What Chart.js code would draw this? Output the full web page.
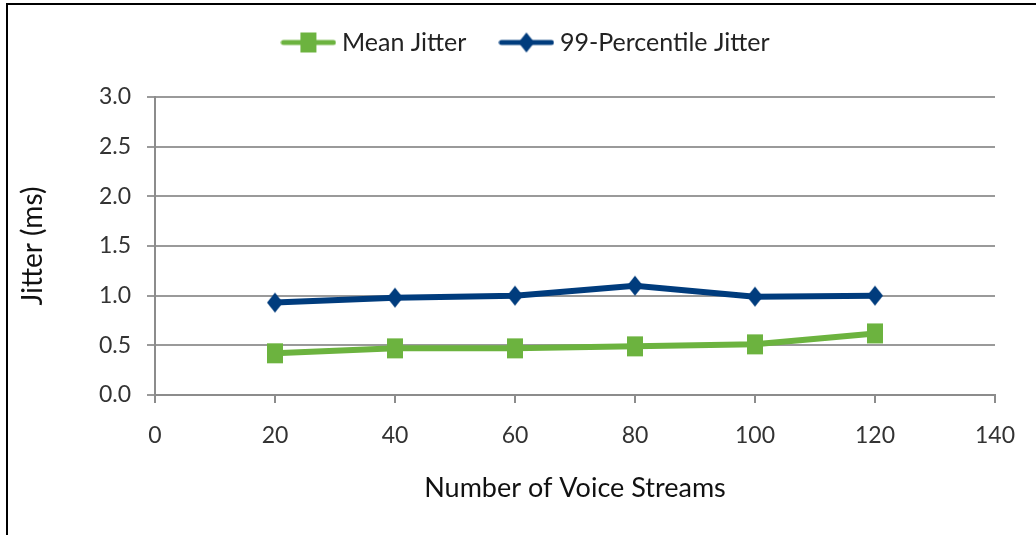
<!DOCTYPE html>
<html>
<head>
<meta charset="utf-8">
<script src="https://cdn.jsdelivr.net/npm/chart.js@4"></script>
<style>
    html, body { margin: 0; padding: 0; background: #fff; overflow: hidden; }
    #wrap {
        position: absolute; left: 6px; top: 3px;
        width: 1028px; height: 530px;
        border-left: 2px solid #000; border-top: 2px solid #000;
    }
</style>
</head>
<body>
<div id="wrap"><canvas id="chart"></canvas></div>
<script>
const streams = [20, 40, 60, 80, 100, 120];
const meanJitter = [0.42, 0.47, 0.47, 0.49, 0.51, 0.62];
const p99Jitter = [0.93, 0.98, 1.00, 1.10, 0.99, 1.00];
const xTicks = [0, 20, 40, 60, 80, 100, 120, 140];

const GREEN = '#6cb33f';
const BLUE = '#003c7d';
const FONT = 'Lato, "Open Sans", sans-serif';

// markers are a bit taller than wide in the original
function drawMarker(g, style, cx, cy) {
    if (style == 'rect') {
        g.fillRect(cx - 8, cy - 10, 16, 20);
    } else {
        g.beginPath();
        g.moveTo(cx, cy - 10); g.lineTo(cx + 8, cy); g.lineTo(cx, cy + 10); g.lineTo(cx - 8, cy);
        g.closePath(); g.fill();
    }
}

function markerImage(color, style) {
    let c = document.createElement('canvas');
    c.width = 18; c.height = 22;
    let g = c.getContext('2d');
    g.fillStyle = color;
    drawMarker(g, style, 9, 11);
    return c;
}

// legend icon: a short line with the marker in the middle
function legendIcon(color, style) {
    let c = document.createElement('canvas');
    c.width = 56; c.height = 22;
    let g = c.getContext('2d');
    g.strokeStyle = color;
    g.lineWidth = 5;
    g.lineCap = 'round';
    g.beginPath(); g.moveTo(3, 11); g.lineTo(53, 11); g.stroke();
    g.fillStyle = color;
    drawMarker(g, style, 28, 11);
    return c;
}

// legend: fixed box height, drawn a bit higher so the wide item gap
// does not push the text down
const legendPlace = {
    id: 'legendPlace',
    beforeInit(chart) {
        let fit = chart.legend.fit;
        chart.legend.fit = function() {
            fit.call(this);
            this.height = 92;
        };
    },
    afterLayout(chart) {
        let lg = chart.legend;
        lg.top = -14;
        lg.bottom = lg.top + lg.height;
        lg.left += 25;
        lg.right += 25;
    },
};

let pairs = (ys) => streams.map((x, i) => ({x: x, y: ys[i]}));

new Chart(document.getElementById('chart'), {
    type: 'line',
    data: {
        datasets: [
            {
                label: 'Mean Jitter',
                data: pairs(meanJitter),
                borderColor: GREEN,
                backgroundColor: GREEN,
                borderWidth: 6,
                pointStyle: markerImage(GREEN, 'rect'),
                legendStyle: 'rect',
                tension: 0,
            },
            {
                label: '99-Percentile Jitter',
                data: pairs(p99Jitter),
                borderColor: BLUE,
                backgroundColor: BLUE,
                borderWidth: 6,
                pointStyle: markerImage(BLUE, 'diamond'),
                legendStyle: 'diamond',
                tension: 0,
            },
        ]
    },
    plugins: [legendPlace],
    options: {
        animation: false,
        responsive: true,
        maintainAspectRatio: false,
        layout: {padding: {left: 4, right: 41, top: 0, bottom: 27}},
        plugins: {
            tooltip: {enabled: false},
            legend: {
                position: 'top',
                labels: {
                    usePointStyle: true,
                    pointStyleWidth: 42,
                    padding: 39,
                    color: '#222',
                    font: {family: FONT, size: 25},
                    generateLabels: (chart) => chart.data.datasets.map((ds, i) => ({
                        text: ds.label,
                        datasetIndex: i,
                        fontColor: '#222',
                        pointStyle: legendIcon(ds.borderColor, ds.legendStyle),
                        lineWidth: 0,
                    })),
                },
            },
        },
        scales: {
            x: {
                type: 'linear',
                min: 0, max: 140,
                afterBuildTicks: (s) => { s.ticks = xTicks.map(v => ({value: v})); },
                border: {color: '#8c8c8c', width: 2},
                grid: {drawOnChartArea: false, color: '#8c8c8c', lineWidth: 2, tickLength: 8},
                ticks: {color: '#333', font: {family: FONT, size: 23}, padding: 19},
                title: {display: true, text: 'Number of Voice Streams', color: '#111',
                        font: {family: FONT, size: 27}, padding: {top: 4, bottom: 4}},
                afterFit: (s) => { s.height = 113; },
            },
            y: {
                min: 0, max: 3,
                border: {color: '#8c8c8c', width: 2},
                grid: {color: '#9a9a9a', lineWidth: 2, tickLength: 8},
                ticks: {stepSize: 0.5, color: '#333', font: {family: FONT, size: 23}, padding: 16,
                        callback: (v) => v.toFixed(1)},
                title: {display: true, text: 'Jitter (ms)', color: '#111',
                        font: {family: FONT, size: 28}, padding: {top: 4, bottom: 0}},
                afterFit: (s) => { s.width = 143; },
            },
        },
    }
});
</script>
</body>
</html>
